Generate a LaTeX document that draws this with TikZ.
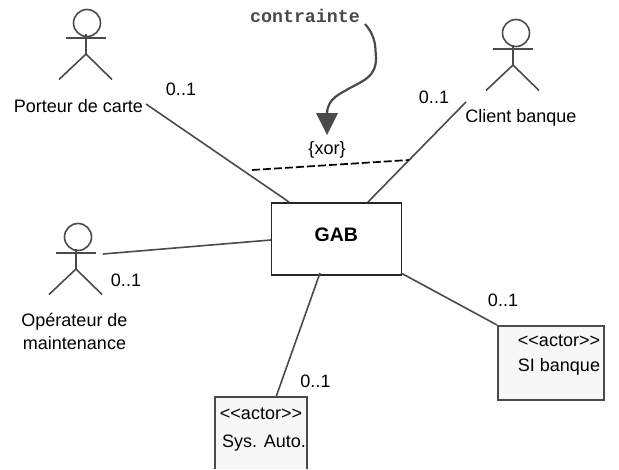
\documentclass[tikz,border=0pt]{standalone}
\usepackage{fontspec}
\setmainfont{Liberation Sans}
\newfontfamily\cour{Liberation Mono}
\definecolor{ln}{HTML}{4A4A4A}
\definecolor{boxfill}{HTML}{F7F7F7}
\tikzset{
  lbl/.style={font=\fontsize{18}{23}\selectfont,text=black,inner sep=0pt,align=center},
  assoc/.style={draw=ln,line width=1.6pt},
  actorline/.style={draw=ln,line width=1.6pt},
  classbox/.style={draw=ln,line width=1.8pt,inner sep=0pt,anchor=north west},
  pics/stick/.style={code={
    \draw[actorline] (-20,0) -- (20,0);
    \draw[actorline] (0,-4) -- (0,16);
    \draw[actorline] (-27,41.5) -- (0,16) -- (26,41.5);
  }}
}
\begin{document}
\begin{tikzpicture}[x=1pt,y=-1pt]
\useasboundingbox (0,0) rectangle (619,469);
\pic at (86,38) {stick};
\draw[actorline] (87,23) circle (13.5);
\pic at (513,49) {stick};
\draw[actorline] (516,33) circle (13.5);
\pic at (76,253) {stick};
\draw[actorline] (78,237) circle (13.5);
\node[lbl] (porteur) at (78.5,106) {Porteur de carte};
\node[lbl] (client) at (521,118) {Client banque};
\node[lbl] (oper) at (74.5,331) {Opérateur de\\maintenance};
\node[draw=black!85,line width=1.5pt,minimum width=130pt,minimum height=72pt,inner sep=0pt,anchor=north west,font=\fontsize{19.5}{22}\selectfont\bfseries] (gab) at (270.5,202) {\raisebox{9pt}{GAB}};
\node[classbox,fill=boxfill,minimum width=106pt,minimum height=74pt] (si) at (497,325) {};
\node[lbl,anchor=center] (sitxt) at (559,355) {<{}<actor>{}>\\[2pt]SI banque};
\fill[boxfill] (215,397) rectangle (307,469);
\draw[ln,line width=1.8pt] (215,469) -- (215,397) -- (307,397) -- (307,469);
\coordinate (sys) at (276,397);
\node[lbl,anchor=center] (systxt) at (261,429.5) {<{}<actor>{}>\\[5pt]\kern6pt Sys. Auto.};
\node[lbl] (m1) at (181,89) {0..1};
\node[lbl] (m2) at (434,97) {0..1};
\node[lbl] (m3) at (126,280) {0..1};
\node[lbl] (m4) at (503,300) {0..1};
\node[lbl] (m5) at (315.5,381) {0..1};
\node[lbl] (xor) at (327,150) {\{xor\}};
\node[inner sep=0pt,text=ln,font=\cour\bfseries\fontsize{18.3}{20}\selectfont] (contr) at (305,16) {contrainte};
\coordinate (a1) at (146,104);
\coordinate (g1) at (289,202);
\coordinate (a2) at (466,102);
\coordinate (g2) at (368,202);
\coordinate (a3) at (103,254);
\coordinate (g3) at (271,240);
\coordinate (g4) at (401,273);
\coordinate (g5) at (320,273);
\draw[assoc] (a1) -- (g1);
\draw[assoc] (a2) -- (g2);
\draw[assoc] (a3) -- (g3);
\draw[assoc] (g4) -- (si.north west);
\draw[assoc] (g5) -- (sys);
\coordinate (d1) at (252,170);
\coordinate (d2) at (409,160);
\draw[black,line width=1.7pt,dash pattern=on 8pt off 3pt] (d1) -- (d2);
\coordinate (c0) at (365,24);
\coordinate (tip) at (327,135);
\coordinate (tipb) at (327,113);
\draw[ln,line width=2.2pt] (c0) .. controls (377,38) and (375,48) .. (376,58) .. controls (376,76) and (365,80) .. (350,88) .. controls (340,94) and (328,98) .. (327,113);
\fill[ln] (316,113) -- (338,113) -- (tip) -- cycle;
\end{tikzpicture}
\end{document}
